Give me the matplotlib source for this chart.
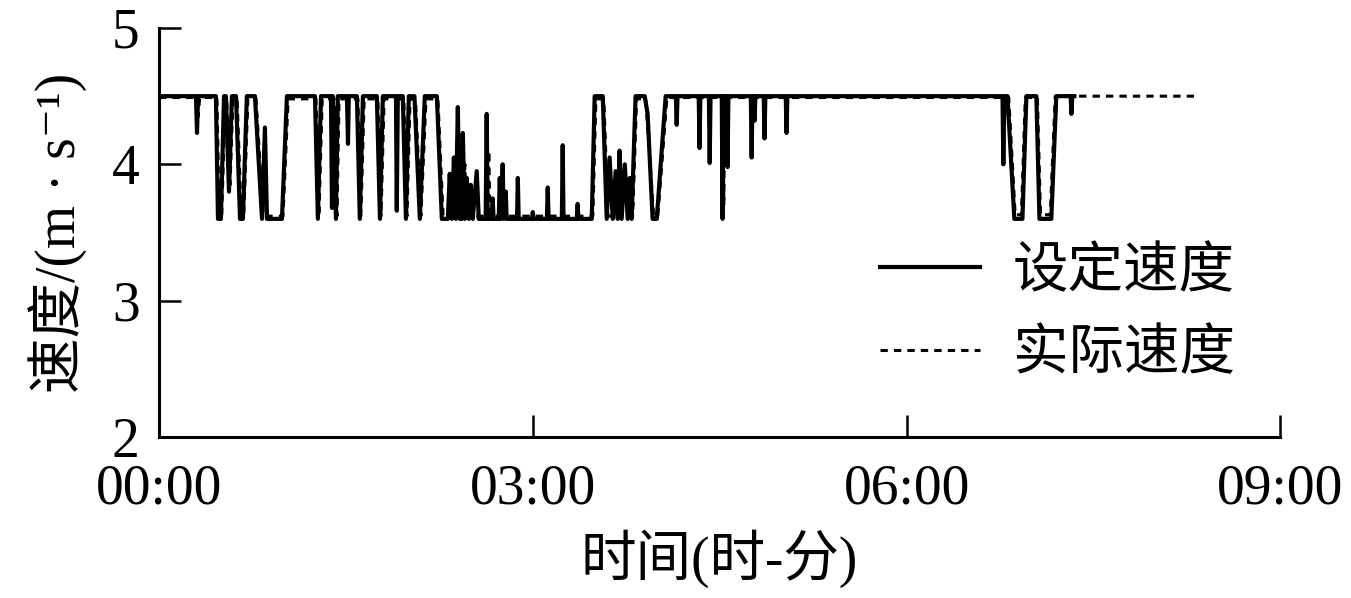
import matplotlib
matplotlib.use("Agg")
import matplotlib.pyplot as plt

plt.rcParams["font.family"] = ["Liberation Serif", "Noto Sans CJK SC", "DejaVu Serif"]

# time in minutes since 00:00, speed in m/s
set_points = [
    (0, 4.5), (17.8, 4.5), (18.3, 4.23), (18.8, 4.5), (27.4, 4.5), (28.4, 3.6),
    (29.8, 3.6), (31.3, 4.5), (32.2, 4.5), (33.7, 3.8), (35.1, 4.5), (37.1, 4.5),
    (39.0, 3.6), (40.4, 3.6), (42.3, 4.5), (46.2, 4.5), (49.6, 3.6), (51.0, 4.27),
    (52.0, 3.6), (59.2, 3.6), (61.6, 4.5), (75.1, 4.5), (76.5, 3.6), (78.0, 4.5),
    (82.8, 4.5), (83.3, 3.68), (83.7, 4.5), (85.2, 3.6), (86.1, 4.5), (90.5, 4.5),
    (91.0, 4.15), (91.4, 4.5), (95.3, 4.5), (96.7, 3.6), (98.2, 4.5), (104.9, 4.5),
    (106.4, 3.6), (107.8, 4.5), (114.1, 4.5), (114.5, 3.66), (115.0, 4.5),
    (117.4, 4.5), (118.9, 3.6), (120.3, 4.5), (123.0, 4.5), (125.6, 3.6),
    (128.0, 4.5), (133.8, 4.5), (136.2, 3.6), (139.1, 3.6), (140.0, 3.93),
    (141.0, 3.6), (142.0, 4.05), (142.9, 3.6), (143.9, 4.42), (144.8, 3.6),
    (145.3, 4.0), (145.8, 3.6), (146.3, 4.23), (147.3, 3.6), (148.2, 3.9),
    (149.2, 3.6), (150.1, 3.85), (151.1, 3.6), (153.0, 3.95), (154.0, 3.6),
    (157.3, 3.6), (157.8, 4.37), (158.3, 3.6), (160.2, 3.6), (160.7, 3.75),
    (161.1, 3.6), (163.6, 3.6), (164.1, 3.9), (164.6, 3.6), (165.5, 4.0),
    (166.0, 3.6), (167.0, 3.8), (167.4, 3.6), (172.4, 3.6), (172.8, 3.9),
    (173.2, 3.6), (179.6, 3.6), (180.0, 3.65), (180.4, 3.6), (186.8, 3.6),
    (187.2, 3.83), (187.6, 3.6), (194.0, 3.6), (194.4, 4.14), (194.8, 3.6),
    (201.2, 3.6), (201.6, 3.71), (202.0, 3.6), (208.4, 3.6), (209.8, 4.5),
    (213.7, 4.5), (215.6, 3.6), (217.0, 4.05), (218.5, 3.6), (219.9, 3.95),
    (220.9, 3.6), (221.8, 4.1), (222.8, 3.6), (224.3, 4.0), (225.7, 3.6),
    (226.7, 3.9), (227.6, 3.6), (229.5, 4.5), (233.9, 4.5), (235.3, 4.37),
    (237.7, 3.6), (239.7, 3.6), (244.0, 4.5), (248.9, 4.5), (249.3, 4.29),
    (249.7, 4.5), (259.9, 4.5), (260.3, 4.12), (260.7, 4.5), (264.8, 4.5),
    (265.2, 4.01), (265.6, 4.5), (271.0, 4.5), (271.4, 3.6), (271.8, 4.5),
    (273.4, 4.5), (273.8, 3.98), (274.2, 4.5), (285.0, 4.5), (285.4, 4.05),
    (285.8, 4.5), (286.4, 4.5), (286.8, 4.32), (287.2, 4.5), (291.2, 4.5),
    (291.6, 4.19), (292.0, 4.5), (301.8, 4.5), (302.2, 4.23), (302.6, 4.5),
    (406.2, 4.5), (406.6, 4.0), (407.1, 4.5), (408.6, 4.5), (411.9, 3.6),
    (415.8, 3.6), (417.7, 4.5), (422.5, 4.5), (424.0, 3.6), (429.7, 3.6),
    (432.1, 4.5), (439.0, 4.5), (439.4, 4.37), (439.8, 4.5), (440.8, 4.5),
]

actual_points = [
    (0, 4.49), (18.0, 4.49), (18.8, 4.35), (19.6, 4.49), (27.9, 4.49), (29.0, 3.62),
    (30.2, 3.62), (31.8, 4.48), (32.6, 4.48), (34.2, 3.85), (35.6, 4.48),
    (37.6, 4.48), (39.6, 3.62), (40.8, 3.62), (42.8, 4.48), (46.7, 4.48),
    (50.2, 3.62), (52.5, 3.62), (59.7, 3.62), (62.2, 4.48), (75.6, 4.48),
    (77.0, 3.62), (78.6, 4.48), (84.4, 4.48), (85.7, 3.62), (86.7, 4.48),
    (95.8, 4.48), (97.2, 3.62), (98.8, 4.48), (105.4, 4.48), (106.9, 3.62),
    (108.4, 4.48), (117.9, 4.48), (119.4, 3.62), (120.9, 4.48), (123.5, 4.48),
    (126.1, 3.62), (128.6, 4.48), (134.3, 4.48), (136.8, 3.62), (142.5, 3.62),
    (143.0, 3.9), (144.4, 3.62), (146.8, 3.62), (147.3, 4.0), (148.0, 3.62),
    (158.3, 3.62), (158.8, 4.1), (159.4, 3.62), (208.9, 3.62), (210.4, 4.48),
    (214.2, 4.48), (216.2, 3.62), (220.4, 3.62), (221.4, 3.9), (222.4, 3.62),
    (228.1, 3.62), (230.0, 4.48), (234.4, 4.48), (238.2, 3.62), (240.2, 3.62),
    (244.6, 4.49), (271.6, 4.49), (272.0, 3.7), (272.4, 4.49), (409.2, 4.49),
    (412.3, 3.63), (415.3, 3.63), (417.2, 4.49), (423.0, 4.49), (424.5, 3.63),
    (429.2, 3.63), (431.6, 4.5), (499.5, 4.5),
]

x_ticks = [0, 180, 360, 540]
x_tick_labels = ["00:00", "03:00", "06:00", "09:00"]
y_ticks = [2, 3, 4, 5]

set_t, set_v = zip(*set_points)
act_t, act_v = zip(*actual_points)

fig = plt.figure(figsize=(13.51, 5.98), dpi=100)
ax = fig.add_axes([0.1177, 0.2692, 0.830, 0.684])

ax.plot(set_t, set_v, color="black", linewidth=3.0, label="设定速度")
ax.plot(act_t, act_v, color="black", linewidth=2.2, linestyle="--",
        dashes=(2.4, 2.0), label="实际速度")

ax.set_xlim(0, 540)
ax.set_ylim(2, 5)
ax.set_xticks(x_ticks)
ax.set_xticklabels(x_tick_labels)
ax.set_yticks(y_ticks)

for side in ["top", "right"]:
    ax.spines[side].set_visible(False)
for side in ["left", "bottom"]:
    ax.spines[side].set_linewidth(2.2)

ax.tick_params(axis="both", direction="in", length=16, width=1.8,
               labelsize=40)
ax.tick_params(axis="y", pad=14)
ax.tick_params(axis="x", pad=19)

ax.set_xlabel("时间(时-分)", fontsize=40, labelpad=10)
ax.set_ylabel("速度/(m · s⁻¹)", fontsize=40, labelpad=18)

ax.legend(loc="upper left", bbox_to_anchor=(0.6426, 0.465), frameon=False,
          fontsize=40, handlelength=1.8, handletextpad=0.6,
          labelspacing=0.55, borderpad=0, borderaxespad=0)

fig.savefig("out.png", dpi=100)
